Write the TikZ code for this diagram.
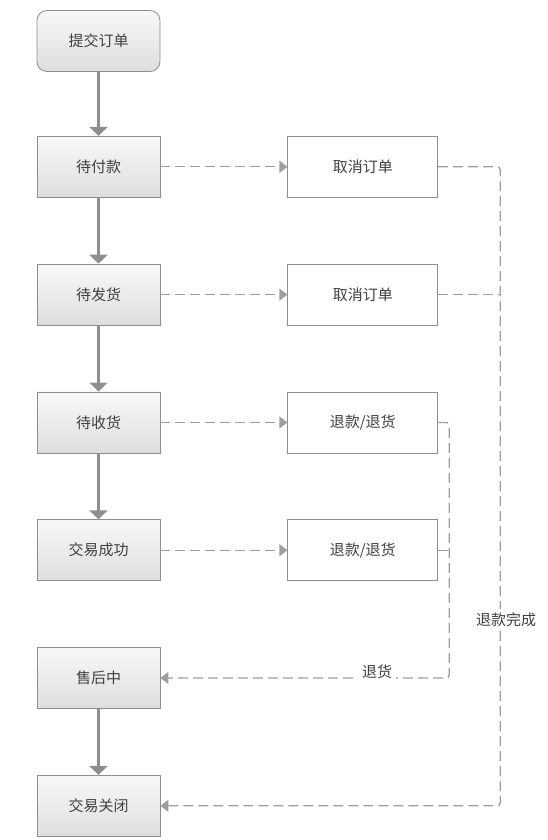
\documentclass[tikz,border=0pt]{standalone}
\usepackage{fontspec}
\setmainfont{Noto Sans CJK SC}
\usepackage{xcolor}
\usepackage{tikz}
\usetikzlibrary{arrows.meta,positioning,calc}
\definecolor{FlowGray}{HTML}{8E8E8E}
\definecolor{DashGray}{HTML}{9E9E9E}
\definecolor{BoxTop}{HTML}{F8F8F8}
\definecolor{BoxBottom}{HTML}{DEDEDE}
\definecolor{TextGray}{HTML}{404040}

\begin{document}
\begin{tikzpicture}[
	x=1pt, y=1pt,
	node distance=66pt and 127pt,
	state/.style={draw=FlowGray, line width=0.8pt, minimum width=123pt, minimum height=61pt, top color=BoxTop, bottom color=BoxBottom, text=TextGray, font=\fontsize{15}{17}\selectfont},
	result/.style={draw=FlowGray, line width=0.8pt, fill=white, minimum width=150pt, minimum height=61pt, text=TextGray, font=\fontsize{15}{17}\selectfont},
	flow/.style={-{Triangle[length=9pt,width=18pt]}, line width=2.4pt, FlowGray},
	back/.style={-{Triangle[length=8pt,width=12pt]}, dash pattern=on 10pt off 5pt, line width=1.3pt, DashGray, rounded corners=3pt},
	label/.style={fill=white, inner sep=4pt, text=TextGray, font=\fontsize{15}{17}\selectfont}
]
\useasboundingbox (0,0) rectangle (547,-840);

\node[state, rounded corners=10pt] (submit) at (98.5,-41) {提交订单};
\node[state, below=64pt of submit] (unpaid) {待付款};
\node[state, below=of unpaid] (unsent) {待发货};
\node[state, below=of unsent] (unrecv) {待收货};
\node[state, below=of unrecv] (done) {交易成功};
\node[state, below=of done] (service) {售后中};
\node[state, below=of service] (closed) {交易关闭};

\node[result, right=of unpaid] (cancelA) {取消订单};
\node[result, right=of unsent] (cancelB) {取消订单};
\node[result, right=of unrecv] (refundA) {退款/退货};
\node[result, right=of done] (refundB) {退款/退货};

\draw[flow] (submit) -- (unpaid);
\draw[flow] (unpaid) -- (unsent);
\draw[flow] (unsent) -- (unrecv);
\draw[flow] (unrecv) -- (done);
\draw[flow] (service) -- (closed);

\draw[back] (unpaid) -- (cancelA);
\draw[back] (unsent) -- (cancelB);
\draw[back] (unrecv) -- (refundA);
\draw[back] (done) -- (refundB);

% refund finished -> closed
\coordinate (outer) at ($(cancelA.east)+(62,0)$);
\draw[back] (cancelA.east) -- (outer) |- (closed.east);
\draw[back, -] (cancelB.east) -- (cancelB.east -| outer);
\node[label] (finish) at ($(outer |- 0,-620)+(6,0)$) {退款完成};

% goods returned -> after sale
\coordinate (inner) at ($(refundA.east)+(11,0)$);
\draw[back] (refundA.east) -- (inner) |- (service.east);
\draw[back, -] (refundB.east) -- (refundB.east -| inner);
\node[label] (returned) at (377,-672) {退货};
\end{tikzpicture}
\end{document}
